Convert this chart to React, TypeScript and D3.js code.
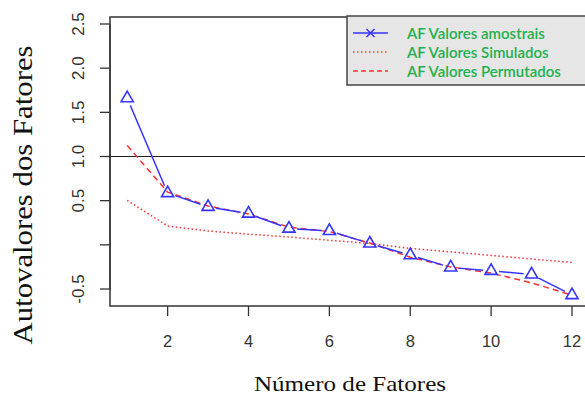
import React, { useEffect, useRef } from 'react';
import * as d3 from 'd3';

// factor numbers on the x axis
const fatores = [1, 2, 3, 4, 5, 6, 7, 8, 9, 10, 11, 12];
// eigenvalues
const amostrais = [1.66, 0.586, 0.43, 0.353, 0.184, 0.157, 0.015, -0.117, -0.256, -0.295, -0.335, -0.569];
const simulados = [0.503, 0.213, 0.157, 0.12, 0.089, 0.052, 0.015, -0.04, -0.08, -0.12, -0.16, -0.2];
const permutados = [1.124, 0.597, 0.44, 0.35, 0.2, 0.15, 0.02, -0.14, -0.25, -0.32, -0.43, -0.57];

const xTicks = [2, 4, 6, 8, 10, 12];
const yTicks = [-0.5, 0, 0.5, 1.0, 1.5, 2.0, 2.5];
const yLabels = ['-0.5', '', '0.5', '1.0', '1.5', '2.0', '2.5'];
const legendLabels = ['AF Valores amostrais', 'AF Valores Simulados', 'AF Valores Permutados'];

const BLUE = '#3434ff';
const RED = '#ff3030';

const App = () => {
  const ref = useRef<SVGSVGElement>(null);

  useEffect(() => {
    const svg = d3.select(ref.current);
    svg.selectAll('*').remove();

    const box = { left: 110, top: 17, right: 592, bottom: 306 };
    const x = d3.scaleLinear().domain([1, 12]).range([127.2, 572]);
    const y = d3.scaleLinear().domain([-0.5, 2.5]).range([289, 24]);

    svg.append('rect').attr('width', 585).attr('height', 397).attr('fill', '#fff');

    // y axis
    const yAxis = svg.append('g');
    yAxis.append('line')
      .attr('x1', box.left).attr('x2', box.left)
      .attr('y1', y(-0.5)).attr('y2', y(2.5))
      .attr('stroke', '#333').attr('stroke-width', 1.3);
    yTicks.forEach((t, i) => {
      yAxis.append('line')
        .attr('x1', 100).attr('x2', box.left)
        .attr('y1', y(t)).attr('y2', y(t))
        .attr('stroke', '#333').attr('stroke-width', 1.3);
      yAxis.append('text')
        .attr('transform', `translate(78,${y(t)}) rotate(-90)`)
        .attr('text-anchor', 'middle')
        .attr('dominant-baseline', 'central')
        .attr('font-family', 'Liberation Sans, Arial, sans-serif')
        .attr('font-size', 17)
        .attr('fill', '#333')
        .text(yLabels[i]);
    });

    // x axis
    const xAxis = svg.append('g');
    xTicks.forEach(t => {
      xAxis.append('line')
        .attr('x1', x(t)).attr('x2', x(t))
        .attr('y1', box.bottom).attr('y2', 316)
        .attr('stroke', '#333').attr('stroke-width', 1.3);
      xAxis.append('text')
        .attr('x', x(t)).attr('y', 341)
        .attr('text-anchor', 'middle')
        .attr('dominant-baseline', 'central')
        .attr('font-family', 'Liberation Sans, Arial, sans-serif')
        .attr('font-size', 16.5)
        .attr('fill', '#333')
        .text(t);
    });

    // plot frame
    svg.append('rect')
      .attr('x', box.left).attr('y', box.top)
      .attr('width', box.right - box.left).attr('height', box.bottom - box.top)
      .attr('fill', 'none').attr('stroke', '#333').attr('stroke-width', 1.5);

    // reference line at 1
    svg.append('line')
      .attr('x1', box.left).attr('x2', box.right)
      .attr('y1', y(1)).attr('y2', y(1))
      .attr('stroke', '#222').attr('stroke-width', 1.2);

    const line = d3.line<number>()
      .x((d, i) => x(fatores[i]))
      .y(d => y(d));

    svg.append('path')
      .datum(simulados)
      .attr('d', line)
      .attr('fill', 'none').attr('stroke', RED)
      .attr('stroke-width', 1.5).attr('stroke-dasharray', '1.5,2.5');

    svg.append('path')
      .datum(permutados)
      .attr('d', line)
      .attr('fill', 'none').attr('stroke', RED)
      .attr('stroke-width', 1.5).attr('stroke-dasharray', '6,4');

    // blue segments with gaps around the markers (type "b")
    const gap = 8;
    for (let i = 0; i < amostrais.length - 1; i++) {
      const x1 = x(fatores[i]), y1 = y(amostrais[i]);
      const x2 = x(fatores[i + 1]), y2 = y(amostrais[i + 1]);
      const len = Math.hypot(x2 - x1, y2 - y1);
      if (len <= gap * 2) continue;
      const ux = (x2 - x1) / len, uy = (y2 - y1) / len;
      svg.append('line')
        .attr('x1', x1 + ux * gap).attr('y1', y1 + uy * gap)
        .attr('x2', x2 - ux * gap).attr('y2', y2 - uy * gap)
        .attr('stroke', BLUE).attr('stroke-width', 1.5);
    }

    const tri = d3.symbol().type(d3.symbolTriangle).size(64);
    svg.selectAll('path.tri')
      .data(amostrais)
      .join('path')
      .attr('class', 'tri')
      .attr('d', tri)
      .attr('transform', (d, i) => `translate(${x(fatores[i])},${y(d)})`)
      .attr('fill', 'none').attr('stroke', BLUE).attr('stroke-width', 1.6);

    // legend
    const lg = svg.append('g');
    lg.append('rect')
      .attr('x', 347).attr('y', 16).attr('width', 250).attr('height', 69)
      .attr('fill', '#e6e6e6').attr('stroke', '#444').attr('stroke-width', 1.5);
    const rows = [33, 52, 71];
    const styles = [
      { color: BLUE, dash: null },
      { color: RED, dash: '1.5,2.5' },
      { color: RED, dash: '5,3' },
    ];
    rows.forEach((ry, i) => {
      lg.append('line')
        .attr('x1', 353).attr('x2', 388)
        .attr('y1', ry).attr('y2', ry)
        .attr('stroke', styles[i].color).attr('stroke-width', 1.5)
        .attr('stroke-dasharray', styles[i].dash);
      lg.append('text')
        .attr('x', 407).attr('y', ry)
        .attr('dominant-baseline', 'central')
        .attr('font-family', 'Lato, Open Sans, sans-serif')
        .attr('font-size', 15)
        .attr('font-weight', 600)
        .attr('fill', '#22b04b')
        .text(legendLabels[i]);
    });
    lg.append('path')
      .attr('d', 'M-4,-4L4,4M-4,4L4,-4')
      .attr('transform', 'translate(370.5,33)')
      .attr('stroke', BLUE).attr('stroke-width', 1.5);

    // axis titles
    svg.append('text')
      .attr('transform', 'translate(350,391) scale(1.14,1)')
      .attr('text-anchor', 'middle')
      .attr('font-family', 'Liberation Serif, Times New Roman, serif')
      .attr('font-size', 22)
      .attr('fill', '#111')
      .text('Número de Fatores');
    svg.append('text')
      .attr('transform', 'translate(32,195) rotate(-90) scale(1.14,1)')
      .attr('text-anchor', 'middle')
      .attr('font-family', 'Liberation Serif, Times New Roman, serif')
      .attr('font-size', 27)
      .attr('fill', '#111')
      .text('Autovalores dos Fatores');
  }, []);

  return (
    <div style={{ position: 'fixed', left: 0, top: 0 }}>
      <svg ref={ref} width={585} height={397} style={{ display: 'block' }} />
    </div>
  );
};

export default App;
